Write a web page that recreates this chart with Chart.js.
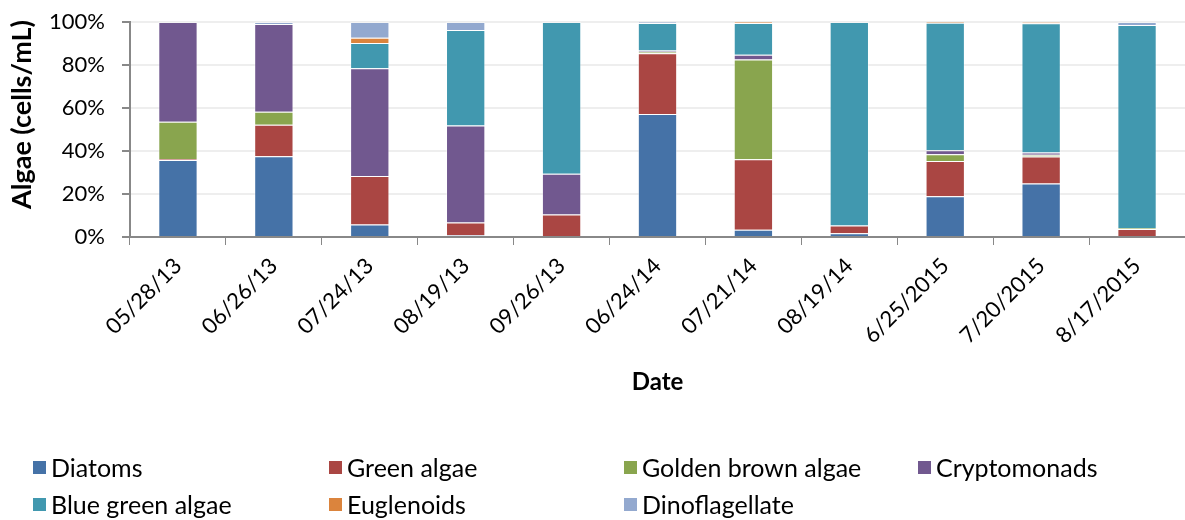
<!DOCTYPE html>
<html>
<head>
<meta charset="utf-8">
<script src="https://cdn.jsdelivr.net/npm/chart.js@4.4.1/dist/chart.umd.min.js"></script>
<style>
  body { margin: 0; background: #fff; }
  #wrap { position: relative; width: 1185px; height: 520px; }
  #legend { position: absolute; left: 33px; top: 454px; width: 1150px;
            display: grid; grid-template-columns: 296px 295px 294px 250px; row-gap: 11px;
            font-family: Lato, "Noto Sans", sans-serif; font-size: 25px; color: #000; }
  #legend span.item { display: flex; align-items: center; height: 26px; white-space: nowrap; }
  #legend span.box { display: inline-block; width: 13px; height: 13px; margin-right: 5px; }
</style>
</head>
<body>
<div id="wrap">
  <canvas id="algaeChart" width="1185" height="520"></canvas>
  <div id="legend"></div>
</div>
<script>
const dates = ['05/28/13', '06/26/13', '07/24/13', '08/19/13', '09/26/13', '06/24/14',
               '07/21/14', '08/19/14', '6/25/2015', '7/20/2015', '8/17/2015'];

// percent of total cells/mL
const diatoms      = [35.8, 37.6,  5.8,  0.8,  0.5, 57.2,  3.4,  1.7, 18.9, 24.9,  0.5];
const greenAlgae   = [ 0.5, 14.6, 22.6,  5.9, 10.0, 28.3, 32.8,  3.6, 16.5, 12.5,  3.2];
const goldenBrown  = [17.3,  6.1,  0.0,  0.0,  0.0,  0.7, 46.4,  0.0,  3.1,  0.8,  0.5];
const cryptomonads = [46.4, 40.8, 50.1, 45.2, 18.9,  0.5,  2.2,  0.0,  1.9,  1.1,  0.0];
const blueGreen    = [ 0.0,  0.0, 11.7, 44.4, 70.6, 12.8, 14.7, 94.7, 59.3, 60.1, 94.4];
const euglenoids   = [ 0.0,  0.0,  2.5,  0.0,  0.0,  0.0,  0.5,  0.0,  0.3,  0.6,  0.0];
const dinoflag     = [ 0.0,  0.9,  7.3,  3.7,  0.0,  0.5,  0.0,  0.0,  0.0,  0.0,  1.4];

const yTicks = [0, 20, 40, 60, 80, 100];
const yTitle = 'Algae (cells/mL)';

const series = [
    { label: 'Diatoms', data: diatoms, color: '#4572A7' },
    { label: 'Green algae', data: greenAlgae, color: '#AA4643' },
    { label: 'Golden brown algae', data: goldenBrown, color: '#89A54E' },
    { label: 'Cryptomonads', data: cryptomonads, color: '#71588F' },
    { label: 'Blue green algae', data: blueGreen, color: '#4198AF' },
    { label: 'Euglenoids', data: euglenoids, color: '#DB843D' },
    { label: 'Dinoflagellate', data: dinoflag, color: '#93A9CF' }
];

const fontFamily = 'Lato, "Noto Sans", sans-serif';

// y title sits a bit above the plot's middle in the original, so draw it here
const yTitlePlugin = {
    id: 'yTitle',
    afterDraw(chart) {
        const { ctx, chartArea } = chart;
        ctx.save();
        ctx.translate(22, (chartArea.top + chartArea.bottom) / 2 - 15);
        ctx.rotate(-Math.PI / 2);
        ctx.font = 'bold 27px ' + fontFamily;
        ctx.fillStyle = '#000';
        ctx.textAlign = 'center';
        ctx.textBaseline = 'middle';
        ctx.fillText(yTitle, 0, 0);
        ctx.restore();
    }
};

const algaeChart = {
    type: 'bar',
    data: {
        labels: dates,
        datasets: series.map(s => ({
            label: s.label,
            data: s.data,
            backgroundColor: s.color,
            borderColor: 'rgba(255,255,255,0.35)',
            borderWidth: 1,
            categoryPercentage: 1,
            barPercentage: 0.41
        }))
    },
    options: {
        responsive: false,
        animation: false,
        layout: { padding: { top: 22, right: 0, bottom: 120, left: 0 } },
        plugins: {
            legend: { display: false },
            tooltip: { enabled: false }
        },
        scales: {
            x: {
                stacked: true,
                afterFit: scale => { scale.height = 163; },
                grid: {
                    offset: true,
                    drawOnChartArea: false,
                    tickLength: 8,
                    color: '#888',
                    tickColor: '#888'
                },
                border: { color: '#888', width: 2 },
                ticks: {
                    color: '#000',
                    font: { family: fontFamily, size: 22 },
                    minRotation: 45,
                    maxRotation: 45,
                    padding: 8,
                    autoSkip: false
                },
                title: {
                    display: true,
                    text: 'Date',
                    color: '#000',
                    font: { family: fontFamily, size: 24, weight: 'bold' },
                    padding: { top: 0, bottom: 3 }
                }
            },
            y: {
                stacked: true,
                min: 0,
                max: 100,
                afterBuildTicks: scale => { scale.ticks = yTicks.map(v => ({ value: v })); },
                afterFit: scale => {
                    scale.width = 130;
                    // keep the plot top at the layout padding
                    scale.paddingTop = 0;
                    scale.paddingBottom = 0;
                },
                grid: {
                    color: '#eeeeee',
                    lineWidth: 2,
                    tickColor: '#888',
                    tickLength: 8
                },
                border: { color: '#888', width: 2 },
                ticks: {
                    color: '#000',
                    font: { family: fontFamily, size: 22 },
                    padding: 17,
                    callback: v => v + '%'
                }
            }
        }
    },
    plugins: [yTitlePlugin]
};

const chart = new Chart(document.getElementById('algaeChart'), algaeChart);

// legend laid out as a grid like the original
const legendEl = document.getElementById('legend');
chart.data.datasets.forEach(ds => {
    const item = document.createElement('span');
    item.className = 'item';
    const box = document.createElement('span');
    box.className = 'box';
    box.style.background = ds.backgroundColor;
    item.appendChild(box);
    item.appendChild(document.createTextNode(ds.label));
    legendEl.appendChild(item);
});
</script>
</body>
</html>
